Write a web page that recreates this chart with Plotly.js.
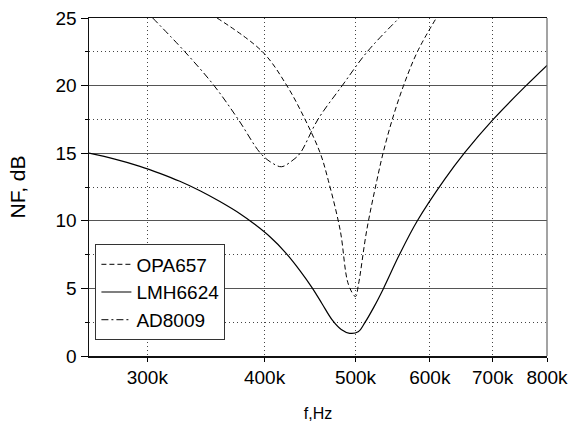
<!DOCTYPE html>
<html>
<head>
<meta charset="utf-8">
<script src="https://cdn.plot.ly/plotly-3.0.1.min.js"></script>
<style>html,body{margin:0;padding:0;background:#fff;}#chart{width:571px;height:422px;}</style>
</head>
<body>
<div id="chart"></div>
<script>
// Data (frequency in Hz, noise figure in dB)
const freqOPA657 = [356000, 398000, 422500, 441800, 458600, 467700, 481600, 491400, 500000, 503700, 514000, 527000, 535000, 547300, 562600, 582000, 609700];
const nfOPA657   = [25, 22.5, 20, 17.5, 15, 13, 9.3, 5.3, 4.4, 5.3, 9.3, 13, 15, 17.5, 20, 22.5, 25];

const freqLMH6624 = [260000, 277000, 294600, 309400, 324900, 341400, 358500, 376600, 390800, 405600, 420600, 436500, 449600, 460800, 472200, 482800, 493000, 503300, 512000, 523600, 535600, 557000, 582000, 622000, 653000, 701000, 760000, 800000];
const nfLMH6624   = [15.0, 14.56, 14.03, 13.51, 12.92, 12.22, 11.42, 10.52, 9.72, 8.80, 7.69, 6.30, 5.04, 3.85, 2.67, 1.96, 1.68, 1.79, 2.5, 3.67, 5.0, 7.5, 10.0, 13.04, 15.0, 17.5, 20.0, 21.5];

const freqAD8009 = [304000, 329000, 353400, 375000, 396000, 407000, 417000, 429000, 436500, 456000, 484000, 514600, 556600];
const nfAD8009   = [25, 22.5, 20, 17.5, 15, 14.3, 14.0, 14.5, 15, 17.5, 20, 22.5, 25];

const xTickVals  = [300000, 400000, 500000, 600000, 700000, 800000];
const xTickText  = ['300k', '400k', '500k', '600k', '700k', '800k'];
const yTickVals  = [0, 5, 10, 15, 20, 25];

const FONT = 'Liberation Sans, Arial, sans-serif';

const traces = [
  {x: freqOPA657, y: nfOPA657, name: 'OPA657', mode: 'lines',
   line: {color: '#000', width: 1, dash: '5px,3px', shape: 'spline', smoothing: 1.0}},
  {x: freqLMH6624, y: nfLMH6624, name: 'LMH6624', mode: 'lines',
   line: {color: '#000', width: 1.2, shape: 'spline', smoothing: 1.0}},
  {x: freqAD8009, y: nfAD8009, name: 'AD8009', mode: 'lines',
   line: {color: '#000', width: 1, dash: '7px,3px,2px,3px', shape: 'spline', smoothing: 1.0}}
];

const layout = {
  width: 571, height: 422,
  margin: {l: 89, r: 24, t: 18, b: 66},
  paper_bgcolor: '#fff', plot_bgcolor: '#fff',
  font: {family: FONT, color: '#000', size: 19},
  showlegend: true,
  legend: {
    x: 0.014, y: 0.33, xanchor: 'left', yanchor: 'top',
    bgcolor: '#fff', bordercolor: '#333', borderwidth: 1,
    font: {family: FONT, size: 19, color: '#000'},
    tracegroupgap: 0
  },
  xaxis: {
    type: 'log',
    range: [Math.log10(260000), Math.log10(800000)],
    tickvals: xTickVals, ticktext: xTickText,
    ticks: 'outside', ticklen: 4, tickcolor: '#000', tickwidth: 1,
    showline: true, linecolor: '#111', linewidth: 1.5, mirror: true,
    showgrid: true, gridcolor: '#444', gridwidth: 1, griddash: '1px,3px',
    zeroline: false,
    tickfont: {family: FONT, size: 19, color: '#000'},
    title: {text: 'f,Hz', font: {family: FONT, size: 16, color: '#000'}, standoff: 20}
  },
  yaxis: {
    range: [0, 25],
    tickvals: yTickVals,
    ticks: 'outside', ticklen: 7, tickcolor: '#000', tickwidth: 1,
    showline: true, linecolor: '#111', linewidth: 1.5, mirror: false,
    showgrid: true, gridcolor: '#555', gridwidth: 1,
    zeroline: false,
    minor: {dtick: 2.5, ticks: 'outside', ticklen: 3, tickcolor: '#000',
            showgrid: true, gridcolor: '#444', gridwidth: 1, griddash: '1px,3px'},
    tickfont: {family: FONT, size: 19, color: '#000'},
    title: {text: 'NF, dB', font: {family: FONT, size: 21, color: '#000'}, standoff: 24}
  },
  shapes: [
    {type: 'line', xref: 'paper', yref: 'paper', x0: 1, x1: 1, y0: 0, y1: 1,
     line: {color: '#666', width: 1.2}}
  ]
};

Plotly.newPlot('chart', traces, layout, {staticPlot: true, displayModeBar: false});
</script>
</body>
</html>
